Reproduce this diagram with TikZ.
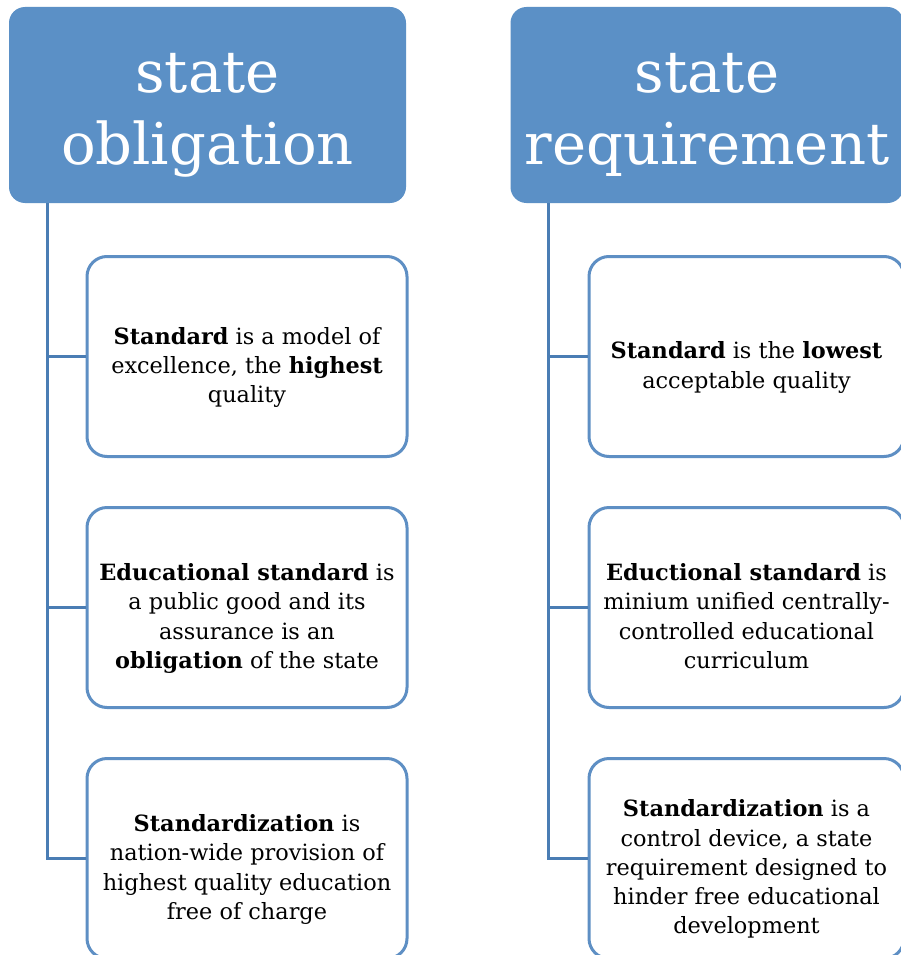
\documentclass[tikz,border=0pt]{standalone}
\usepackage{fontspec}
\setmainfont{DejaVu Serif}
\definecolor{hdrfill}{HTML}{5B90C6}
\definecolor{boxline}{HTML}{5E8FC4}
\definecolor{conline}{HTML}{4A7DB4}
\newcommand{\celltext}[2]{\raisebox{#1}[\height][\depth]{\begin{tabular}{@{}c@{}}#2\end{tabular}}}
\begin{document}
\begin{tikzpicture}[x=1pt,y=-1pt,
  header/.style={fill=hdrfill, draw=none, rounded corners=16pt, minimum height=196pt,
    text=white, align=center, inner sep=0pt, font=\fontsize{57.6}{72.3}\selectfont},
  childbox/.style={draw=boxline, line width=3pt, fill=white, rounded corners=20pt,
    minimum height=200pt, align=center, inner sep=0pt, font=\fontsize{22.4}{29.3}\selectfont},
  conn/.style={draw=conline, line width=3pt}]
\useasboundingbox (0,0) rectangle (901,955);
\fill[white] (0,0) rectangle (901,955);
% headers
\node[header, minimum width=397pt] (hL) at (207.5,105) {\celltext{-9pt}{state\\obligation}};
\node[header, minimum width=393pt] (hR) at (707,105) {\celltext{-9pt}{state\\requirement}};
% left column
\node[childbox, minimum width=320pt] (L1) at (247,356.5) {\celltext{-11pt}{\textbf{Standard} is a model of\\excellence, the \textbf{highest}\\quality}};
\node[childbox, minimum width=320pt] (L2) at (247,607.5) {\celltext{-11pt}{\textbf{Educational standard} is\\a public good and its\\assurance is an\\\textbf{obligation} of the state}};
\node[childbox, minimum width=320pt] (L3) at (247,858.5) {\celltext{-11pt}{\textbf{Standardization} is\\nation-wide provision of\\highest quality education\\free of charge}};
% right column
\node[childbox, minimum width=315pt] (R1) at (746.5,356.5) {\celltext{-11pt}{\textbf{Standard} is the \textbf{lowest}\\acceptable quality}};
\node[childbox, minimum width=315pt] (R2) at (746.5,607.5) {\celltext{-11pt}{\textbf{Eductional standard} is\\minium unified centrally-\\controlled educational\\curriculum}};
\node[childbox, minimum width=315pt] (R3) at (746.5,858.5) {\celltext{-11pt}{\textbf{Standardization} is a\\control device, a state\\requirement designed to\\hinder free educational\\development}};
% connectors
\coordinate (tL) at (47,203);
\coordinate (tR) at (548,203);
\draw[conn] (tL) |- (L3.west);
\draw[conn] (tL |- L1.west) -- (L1.west);
\draw[conn] (tL |- L2.west) -- (L2.west);
\draw[conn] (tR) |- (R3.west);
\draw[conn] (tR |- R1.west) -- (R1.west);
\draw[conn] (tR |- R2.west) -- (R2.west);
\end{tikzpicture}
\end{document}
